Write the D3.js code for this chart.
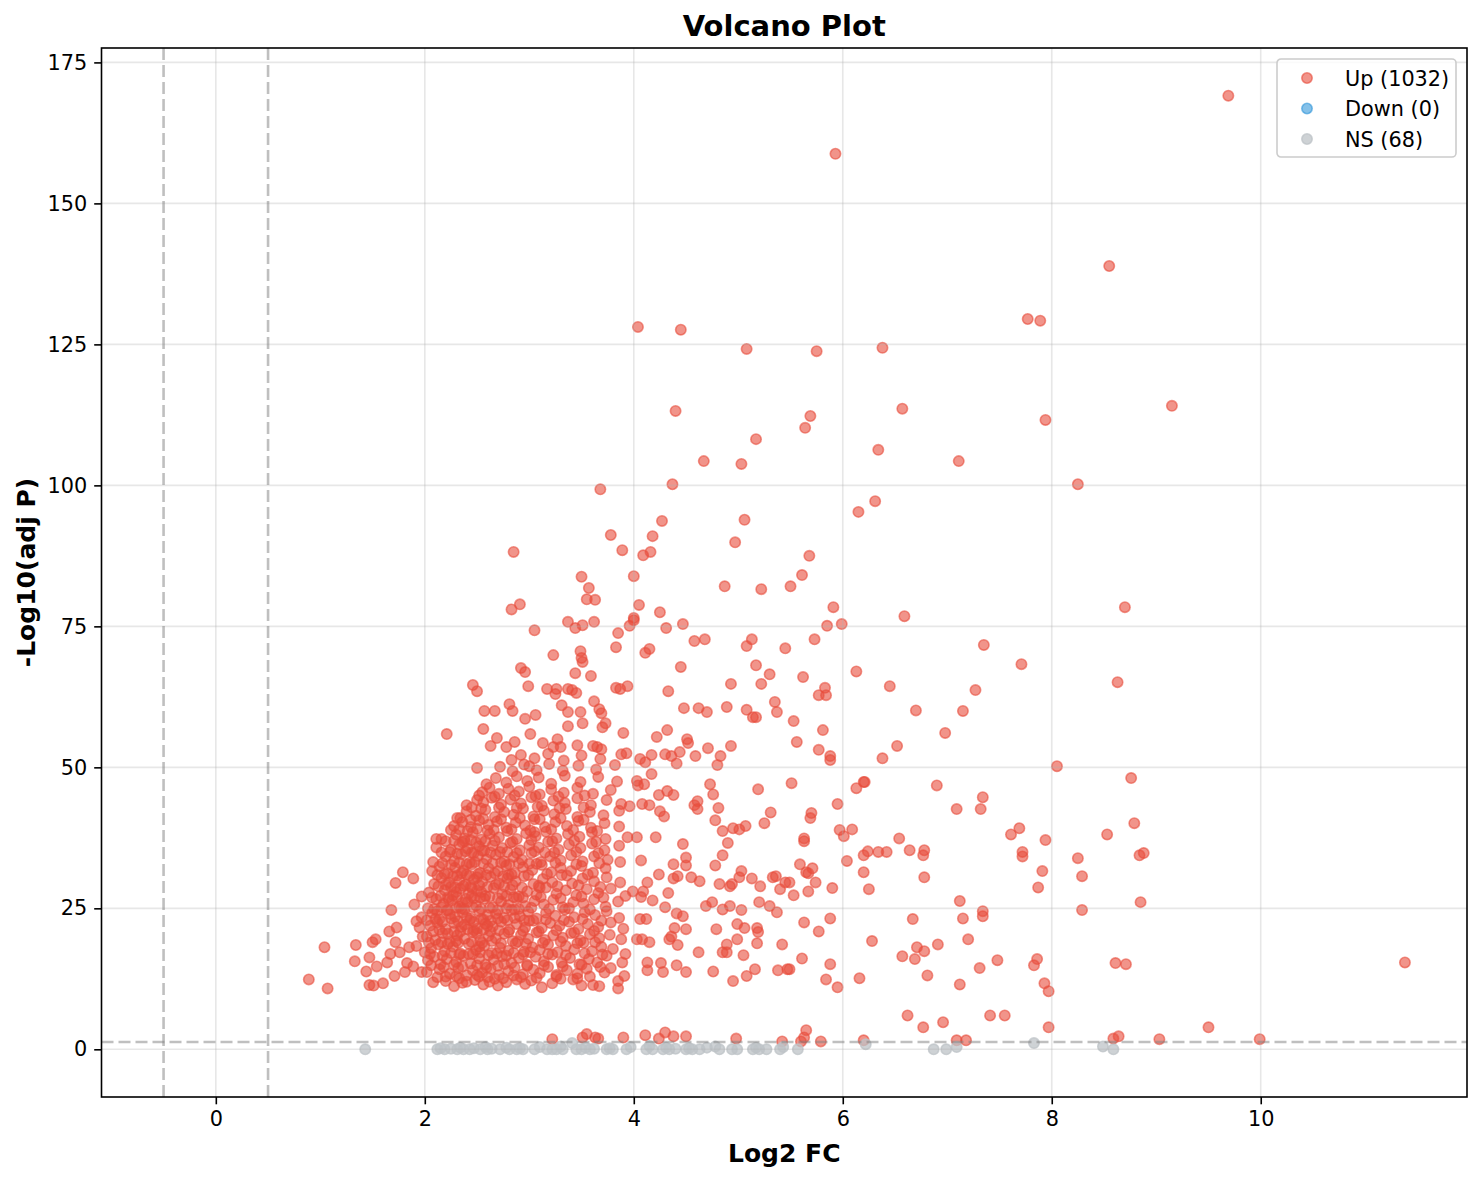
<!DOCTYPE html>
<html>
<head>
<meta charset="utf-8">
<script src="https://cdn.jsdelivr.net/npm/d3@7"></script>
<style>
  body { margin: 0; background: #fff; }
  svg text { font-family: "DejaVu Sans", sans-serif; fill: #000; }
</style>
</head>
<body>
<div class="volcano"></div>
<script>
// values: [log2 FC, -log10(adj P)]
var upPoints = [
  // top outliers
  [9.69,169.1],[5.93,158.8],[8.55,138.9],[7.77,129.5],[7.89,129.2],[4.04,128.1],[4.45,127.6],[5.08,124.2],[5.75,123.8],[6.38,124.4],
  [9.15,114.1],[4.40,113.2],[6.57,113.6],[5.69,112.3],[5.64,110.2],[7.94,111.6],[5.17,108.2],[6.34,106.3],[4.67,104.3],[5.03,103.8],
  [7.11,104.3],[8.25,100.2],[4.37,100.2],[3.68,99.3],[6.31,97.2],[6.15,95.3],[4.27,93.7],[5.06,93.9],[3.78,91.2],[4.18,91.0],
  [4.97,89.9],[3.89,88.5],[4.09,87.6],[4.16,88.2],[5.68,87.5],[4.00,83.9],[5.61,84.1],[4.87,82.1],[5.22,81.6],[5.50,82.1],
  [4.05,78.8],[4.25,77.5],[5.91,78.4],[4.00,76.5],[8.70,78.4],[2.85,88.2],[2.83,78.0],[2.91,78.9],[3.50,83.8],[3.57,81.8],
  [3.63,79.7],[3.55,79.8],
  // 60 - 77
  [5.85,75.1],[5.99,75.4],[6.59,76.8],[5.73,72.7],[7.35,71.7],[7.71,68.3],[6.13,67.0],[5.62,66.0],[6.45,64.4],[7.27,63.7],
  [5.83,64.1],[5.77,62.8],[5.84,62.8],[6.70,60.1],[7.15,60.0],[5.53,58.2],[5.81,56.6],[6.98,56.1],[8.63,65.1],
  [5.08,71.5],[5.13,72.7],[5.45,71.1],[5.17,68.1],[5.30,66.5],[4.93,64.8],[5.22,64.8],[4.89,60.7],[5.08,60.2],[5.14,58.9],
  [5.17,58.9],[5.35,61.6],[5.37,59.8],[4.48,60.5],[4.62,60.5],[4.70,59.8],[4.45,67.8],
  [3.37,75.8],[3.44,74.7],[3.51,75.2],[3.62,75.8],[3.96,75.1],[4.00,76.1],[4.31,74.7],[4.47,75.4],[3.85,73.8],[3.83,71.3],
  [4.58,72.4],[4.68,72.7],[4.11,70.3],[4.15,71.0],[3.23,69.9],[3.49,70.6],[3.50,69.4],[3.51,68.7],[3.44,66.7],[3.59,66.2],
  [4.33,63.5],[3.17,63.9],[3.26,63.9],[3.25,63.0],[3.37,63.9],[3.41,63.7],[3.45,63.2],[3.83,64.1],[3.87,63.9],[3.94,64.4],
  [3.62,61.7],[3.31,61.0],[3.37,59.8],[3.49,59.8],[3.67,60.3],[3.69,59.6],[3.05,74.3],[2.92,67.6],[2.96,66.9],[2.99,64.4],
  [2.46,64.6],[2.50,63.5],[2.57,60.0],[2.67,60.0],[2.81,61.2],[2.84,60.0],[2.96,58.6],[3.06,59.3],
  // 50 - 60
  [2.21,55.9],[2.56,56.8],[2.69,55.2],[3.01,55.9],[3.37,57.3],[3.51,57.8],[3.70,57.1],[3.73,57.8],[3.90,56.1],
  [2.63,53.8],[2.78,53.6],[2.86,54.5],[3.13,54.3],[3.23,53.6],[3.27,55.0],[3.30,53.6],[3.46,53.9],[3.61,53.8],[3.65,53.6],[3.69,53.2],
  [2.83,51.3],[2.92,52.2],[3.05,51.6],[3.18,52.4],[3.33,51.2],[3.50,52.1],[3.68,51.5],[3.88,52.3],
  [4.06,51.5],[4.11,50.9],[4.17,52.2],[4.30,52.3],[4.36,52.0],[4.44,52.7],[4.41,50.7],[4.59,52.0],[4.83,52.0],[4.80,50.4],
  [3.93,52.5],[4.22,55.4],[4.32,56.6],[4.51,55.0],[4.52,54.3],[4.71,53.4],[4.93,53.8],
  [5.56,54.5],[5.77,53.1],[5.88,52.0],[5.88,51.3],[6.38,51.6],[6.52,53.8],[8.05,50.2],
  // 35 - 50, right part
  [4.03,47.6],[4.10,47.0],[4.04,46.8],[4.17,48.8],[4.73,47.0],[4.76,45.2],[5.19,46.1],[4.24,45.1],[4.32,45.8],[4.38,45.1],
  [4.58,43.3],[4.61,44.0],[4.61,42.6],[4.81,42.8],[5.31,42.0],[5.25,40.1],[4.25,42.2],[4.29,41.3],[4.78,40.6],[4.85,38.7],
  [4.95,39.2],[5.01,39.0],[5.07,39.6],[3.96,43.1],[4.08,43.5],[4.15,43.3],[3.94,37.6],[4.03,37.6],[4.21,37.6],
  [5.51,47.2],[6.20,47.4],[6.21,47.4],[6.13,46.3],[6.90,46.8],[7.34,44.7],[7.32,42.6],[7.09,42.6],[5.95,43.5],[5.70,41.9],
  [5.69,41.0],[5.97,38.9],[6.09,39.0],[6.01,37.8],[5.63,37.4],[5.63,36.9],[6.54,37.4],[7.61,38.1],[7.69,39.2],[7.94,37.1],
  [8.76,48.1],[8.79,40.1],[8.53,38.1],
  // 10 - 37, right part
  [6.20,34.4],[6.24,35.1],[6.34,35.0],[6.42,35.0],[6.64,35.3],[6.78,35.3],[6.77,34.4],[7.72,35.0],[7.72,34.2],[8.25,33.9],
  [5.59,32.8],[5.65,31.4],[5.67,31.2],[5.71,32.1],[6.04,33.4],[5.49,29.6],[5.74,29.6],[5.67,28.0],[5.53,27.3],[5.90,28.6],
  [6.20,31.4],[6.25,28.4],[6.78,30.5],[7.91,31.6],[7.87,28.7],[8.29,30.7],[7.12,26.3],[7.34,24.5],[7.34,23.6],[7.15,23.2],
  [8.29,24.7],[5.63,22.5],[5.88,23.2],[5.77,20.9],[6.67,23.1],[6.28,19.2],[6.91,18.6],[6.71,18.1],[6.78,17.4],[7.20,19.5],
  [6.57,16.5],[6.69,16.0],[5.61,16.1],[5.49,14.2],[5.88,15.1],[5.84,12.4],[5.95,11.0],[6.16,12.6],[6.81,13.1],[7.48,15.8],
  [7.31,14.4],[7.83,14.9],[7.86,16.0],[7.12,11.5],[7.93,11.7],[7.97,10.3],
  [8.84,34.4],[8.88,34.8],[8.85,26.1],[8.61,15.3],[8.71,15.1],[11.38,15.4],
  [4.47,36.4],[4.90,36.6],[4.85,34.4],[4.50,34.0],[4.50,32.6],[4.38,32.8],[4.78,32.6],[5.03,31.6],[5.01,30.5],[5.13,30.3],
  [5.21,28.9],[5.33,30.5],[5.36,30.7],[5.40,28.4],[5.45,29.6],[4.82,29.3],[4.92,28.9],[4.94,29.3],[4.55,30.5],[4.63,29.8],
  [4.38,30.3],[4.42,30.7],[4.24,31.0],[4.33,27.7],[4.07,33.5],[3.87,33.2],[4.69,25.4],[4.75,26.1],[4.85,24.8],[4.92,25.4],
  [5.03,24.7],[5.20,26.1],[5.30,25.4],[5.37,24.3],[4.30,25.2],[4.41,24.1],[4.47,23.6],[4.50,21.3],[4.39,21.5],[4.79,21.3],
  [4.99,22.2],[5.06,21.5],[5.18,21.5],[5.19,20.8],[4.85,17.2],[4.89,17.2],[4.89,18.6],[5.05,16.7],[5.18,18.8],[4.99,19.5],
  [4.62,17.2],[4.34,19.5],[4.36,20.0],[4.42,18.5],[4.76,13.8],[4.95,12.1],[5.08,13.0],[5.16,14.2],[5.38,14.0],[5.47,14.2],
  [5.42,18.6],[4.13,15.4],[4.13,14.0],[4.26,15.3],[4.28,13.7],[4.41,14.9],[4.50,13.7],[4.03,19.5],[4.08,19.5],[4.15,19.0],
  [4.06,23.1],[4.12,23.1],[3.99,28.0],[4.07,27.0],[4.09,28.0],[4.18,26.4],[4.13,29.6],[3.92,16.9],[3.89,15.4],[3.91,13.0],
  // just above the p cut
  [6.62,6.0],[6.77,3.9],[6.96,4.8],[7.41,6.0],[7.55,6.0],[7.97,3.9],[5.65,3.4],[5.63,2.1],[5.60,1.4],[5.79,1.4],
  [6.20,1.6],[7.09,1.6],[7.18,1.6],[9.50,3.9],[8.64,2.3],[8.59,1.9],[9.03,1.8],[9.99,1.8],[3.22,1.8],[3.55,2.7],
  [3.51,2.1],[3.63,2.1],[3.66,1.9],[3.90,2.1],[4.11,2.5],[4.24,1.9],[4.30,3.0],[4.38,2.3],[4.50,2.3],[4.98,1.9],[5.42,1.4],
  // left tail and dense cluster
  [0.89,12.4],[1.04,18.1],[1.07,10.8],
  [1.47,11.4],[1.51,11.3],[1.60,11.7],[2.08,11.9],[2.20,12.1],[2.28,11.2],[2.36,11.8],[2.48,12.3],[2.56,11.5],[2.62,12.0],
  [2.70,11.3],[2.78,11.9],[2.88,12.4],[2.96,11.6],[3.02,12.2],[3.12,11.0],[3.22,11.7],[3.30,12.5],[3.42,12.4],[3.50,11.3],
  [3.61,11.4],[3.67,11.2],[3.85,10.8],[3.85,12.1],
  [1.44,13.8],[1.71,13.0],[1.81,13.7],[1.97,13.7],[2.02,13.7],[2.14,14.2],[2.24,13.4],[2.32,14.4],[2.40,13.1],[2.46,14.0],
  [2.55,13.6],[2.63,14.3],[2.71,13.2],[2.80,13.9],[2.86,14.5],[2.94,13.3],[3.04,14.1],[3.10,13.5],[3.18,14.6],[3.26,13.2],
  [3.36,14.0],[3.46,13.4],[3.55,14.3],[3.72,13.6],[3.78,14.4],
  [1.33,15.6],[1.47,16.3],[1.54,14.7],[1.64,15.4],[1.83,15.3],[1.89,14.7],[2.03,15.8],[2.09,16.4],[2.15,15.1],[2.21,16.0],
  [2.30,15.5],[2.37,16.6],[2.44,15.2],[2.52,16.1],[2.58,15.0],[2.66,15.9],[2.74,16.5],[2.83,15.3],[2.90,16.2],[2.98,15.0],
  [3.06,16.4],[3.14,15.6],[3.22,16.8],[3.31,15.4],[3.39,16.2],[3.48,15.1],[3.57,16.0],[3.65,15.4],[3.74,16.6],
  [1.67,16.9],[1.76,17.2],[1.92,18.3],[2.00,17.2],[2.06,17.9],[2.13,18.6],[2.19,17.4],[2.27,18.2],[2.34,17.0],[2.42,18.7],
  [2.49,17.6],[2.57,18.4],[2.64,17.1],[2.72,18.0],[2.80,17.5],[2.87,18.8],[2.95,17.3],[3.03,18.1],[3.10,17.6],[3.18,18.6],
  [3.27,17.2],[3.35,18.3],[3.43,17.7],[3.52,18.9],[3.60,17.4],[3.69,18.2],[3.80,17.8],
  [1.34,18.5],[1.50,19.0],[1.53,19.5],[1.72,19.0],[1.85,18.1],[1.98,20.0],[2.02,20.0],[2.10,19.4],[2.17,20.6],[2.24,19.1],
  [2.31,20.2],[2.38,19.6],[2.46,20.8],[2.53,19.3],[2.61,20.1],[2.68,19.7],[2.76,20.5],[2.84,19.2],[2.92,20.3],[2.99,19.6],
  [3.07,20.7],[3.15,19.4],[3.23,20.2],[3.32,19.8],[3.40,20.6],[3.49,19.3],[3.58,20.4],[3.67,19.7],[3.77,20.3],[3.88,19.5],
  [1.66,20.9],[1.73,21.6],[1.92,22.7],[1.95,21.6],[2.05,21.9],[2.12,22.5],[2.20,21.3],[2.28,22.4],[2.35,21.7],[2.43,22.9],
  [2.50,21.4],[2.58,22.3],[2.65,21.8],[2.73,22.6],[2.81,21.2],[2.88,22.2],[2.96,21.6],[3.04,22.8],[3.12,21.5],[3.20,22.4],
  [3.29,21.9],[3.38,22.6],[3.47,21.3],[3.56,22.2],[3.66,21.7],[3.78,22.5],[3.90,21.4],
  [1.97,23.4],[2.07,24.2],[2.14,23.1],[2.21,24.6],[2.29,23.5],[2.36,24.3],[2.44,23.2],[2.52,24.5],[2.60,23.8],[2.68,24.1],
  [2.76,23.3],[2.83,24.7],[2.91,23.6],[2.99,24.4],[3.07,23.2],[3.16,24.2],[3.25,23.7],[3.34,24.8],[3.43,23.4],[3.53,24.3],
  [3.63,23.8],[3.74,24.5],[3.86,23.3],
  [1.68,24.7],[1.90,25.7],[2.12,24.5],[2.18,25.8],[2.26,26.4],[2.33,25.3],[2.41,26.1],[2.49,25.5],[2.57,26.7],[2.65,25.2],
  [2.73,26.2],[2.80,25.6],[2.88,26.8],[2.96,25.4],[3.05,26.3],[3.14,25.7],[3.23,26.5],[3.32,25.2],[3.42,26.1],[3.52,25.8],
  [3.62,26.6],[3.73,25.3],[3.85,26.2],
  [1.97,27.1],[2.04,27.8],[2.11,26.6],[2.19,28.2],[2.27,27.3],[2.34,28.5],[2.42,27.6],[2.50,28.1],[2.58,27.2],[2.66,28.6],
  [2.74,27.5],[2.82,28.3],[2.90,27.1],[2.98,28.0],[3.07,27.4],[3.16,28.7],[3.26,27.6],[3.35,28.2],[3.45,27.3],[3.55,28.4],
  [3.66,27.7],[3.78,28.5],[3.92,27.2],
  [1.72,29.5],[1.89,30.3],[2.09,29.3],[2.16,30.4],[2.23,29.6],[2.31,30.8],[2.39,29.2],[2.47,30.1],[2.55,29.7],[2.63,30.6],
  [2.71,29.4],[2.79,30.3],[2.87,29.8],[2.95,30.7],[3.04,29.3],[3.13,30.2],[3.22,29.6],[3.31,30.9],[3.41,29.4],[3.51,30.3],
  [3.62,29.8],[3.74,30.5],[3.87,29.6],
  [1.79,31.4],[2.07,31.6],[2.14,32.4],[2.22,31.2],[2.29,32.2],[2.37,31.7],[2.45,32.8],[2.53,31.3],[2.61,32.1],[2.70,31.6],
  [2.78,32.6],[2.86,31.2],[2.94,32.3],[3.03,31.8],[3.12,32.7],[3.21,31.4],[3.30,32.2],[3.40,31.6],[3.50,32.5],[3.61,31.3],
  [3.73,32.1],
  [2.08,33.2],[2.20,34.2],[2.28,33.4],[2.35,34.6],[2.43,33.1],[2.51,34.3],[2.59,33.7],[2.68,34.5],[2.76,33.3],[2.85,34.1],
  [2.93,33.6],[3.02,34.8],[3.11,33.2],[3.20,34.2],[3.30,33.5],[3.40,34.4],[3.51,33.3],[3.62,34.2],[3.75,33.6],
  [2.11,35.8],[2.25,35.4],[2.33,36.3],[2.41,35.6],[2.49,36.7],[2.57,35.2],[2.65,36.1],[2.74,35.7],[2.82,36.6],[2.91,35.3],
  [3.00,36.2],[3.09,35.8],[3.18,36.8],[3.28,35.4],[3.38,36.3],[3.49,35.7],[3.60,36.5],[3.72,35.3],[3.86,36.1],
  [2.11,37.3],[2.16,37.3],[2.30,38.1],[2.38,37.4],[2.46,38.5],[2.54,37.2],[2.62,38.2],[2.71,37.6],[2.79,38.7],[2.88,37.3],
  [2.97,38.3],[3.06,37.8],[3.16,38.6],[3.26,37.4],[3.37,38.2],[3.48,37.7],[3.60,38.5],[3.73,37.3],
  [2.28,39.6],[2.36,40.3],[2.44,39.4],[2.52,40.6],[2.61,39.8],[2.69,40.4],[2.78,39.3],[2.87,40.2],[2.96,39.7],[3.05,40.8],
  [3.15,39.4],[3.25,40.3],[3.36,39.6],[3.47,40.5],[3.59,39.3],[3.72,40.1],[3.86,39.5],
  [2.31,41.0],[2.40,42.2],[2.49,41.4],[2.58,42.5],[2.67,41.2],[2.76,42.1],[2.85,41.6],[2.94,42.7],[3.04,41.3],[3.14,42.3],
  [3.24,41.7],[3.35,42.6],[3.46,41.2],[3.58,42.1],[3.71,41.5],[3.86,42.3],
  [2.40,43.3],[2.50,44.2],[2.56,43.8],[2.64,44.6],[2.73,43.4],[2.82,44.3],[2.92,43.6],[3.02,44.7],[3.12,43.2],[3.23,44.1],
  [3.34,43.7],[3.46,44.5],[3.59,43.3],[3.74,44.2],[3.88,43.5],
  [2.55,45.6],[2.62,46.4],[2.71,45.3],[2.80,46.2],[2.90,45.7],[3.00,46.6],[3.10,45.2],[3.21,46.1],[3.33,45.5],[3.46,46.4],
  [3.61,45.3],[3.78,46.0],
  [2.59,47.0],[2.68,48.1],[2.78,47.3],[2.88,48.4],[2.98,47.6],[3.09,48.2],[3.21,47.1],[3.34,48.5],[3.49,47.4],[3.66,48.3],[3.84,47.5],
  [2.50,49.9],[2.72,50.1],[2.84,49.3],[2.95,50.5],[3.00,50.2],[3.07,49.5],[3.19,50.6],[3.32,49.4],[3.47,50.3],[3.64,49.6],[3.82,50.4],
  // extra overlap in the densest part
  [2.22,26.9],[2.25,28.8],[2.30,27.9],[2.33,30.0],[2.36,26.0],[2.40,31.0],[2.44,28.9],[2.47,26.8],[2.50,30.5],[2.54,27.9],
  [2.28,20.9],[2.32,18.9],[2.38,22.1],[2.42,16.9],[2.47,21.1],[2.52,18.2],[2.56,23.0],[2.60,21.9],[2.24,24.0],[2.35,25.0],
  [2.45,34.9],[2.38,36.9],[2.52,36.0],[2.60,38.8],[2.65,33.0],[2.72,35.0],[2.80,30.9],[2.85,27.0],[2.90,24.9],[2.95,22.9],
  [3.00,32.9],[3.05,38.5],[3.10,28.7],[3.15,34.9],[2.20,12.9],[2.30,13.0],[2.40,12.0],[2.50,13.2],[2.60,12.8],[2.70,14.8],
  [2.75,12.6],[2.85,13.1],
  [2.12,12.8],[2.33,12.6],[2.52,12.9],[2.67,12.5],[2.92,12.8],[3.07,12.7],[3.26,12.9],[3.46,12.6],[3.58,12.9],
  [2.06,14.9],[2.18,14.6],[2.28,15.0],[2.36,14.7],[2.50,14.9],[2.59,14.5],[2.76,15.1],[2.98,14.8],[3.14,14.9],[3.32,14.7],
  [3.50,15.0],[3.68,14.6],
  [2.05,16.9],[2.17,16.6],[2.25,17.1],[2.33,16.8],[2.46,16.9],[2.53,17.2],[2.61,16.7],[2.69,17.0],[2.78,16.6],[2.85,17.1],
  [2.94,16.8],[3.01,17.2],[3.18,16.9],[3.35,16.7],[3.53,17.0],[3.70,16.8],
  [2.04,18.9],[2.16,19.0],[2.22,18.7],[2.30,19.2],[2.45,19.0],[2.55,18.9],[2.64,19.2],[2.73,18.8],[2.89,19.1],[2.97,18.7],
  [3.13,18.9],[3.30,19.1],[3.46,18.8],[3.63,19.0],
  [2.08,20.9],[2.14,21.2],[2.22,20.5],[2.34,20.9],[2.41,21.3],[2.50,20.6],[2.56,21.2],[2.63,20.9],[2.71,21.1],[2.80,20.8],
  [2.94,21.0],[3.09,20.9],[3.26,21.1],[3.43,20.7],[3.62,21.0],
  [2.02,22.9],[2.10,23.1],[2.17,22.6],[2.25,23.2],[2.32,22.7],[2.40,23.4],[2.47,22.6],[2.54,23.1],[2.63,22.8],[2.70,23.2],
  [2.79,22.9],[2.86,23.3],[3.00,22.8],[3.16,23.0],[3.33,22.9],[3.51,23.1],[3.69,22.8],
  [2.03,25.0],[2.09,24.9],[2.16,25.2],[2.22,24.7],[2.30,25.1],[2.38,24.8],[2.46,25.2],[2.54,24.9],[2.62,25.1],[2.70,24.7],
  [2.78,25.0],[2.86,24.8],[3.02,25.1],[3.19,24.9],[3.38,25.0],[3.58,24.8],
  [2.07,26.9],[2.15,27.2],[2.23,26.6],[2.31,27.0],[2.39,26.7],[2.45,27.2],[2.53,26.9],[2.62,27.1],[2.70,26.8],[2.78,27.2],
  [2.94,26.9],[3.11,27.0],[3.30,26.8],[3.50,27.1],[3.71,26.9],
  [2.13,28.9],[2.20,29.2],[2.29,28.7],[2.37,29.0],[2.45,28.6],[2.52,29.1],[2.60,28.8],[2.68,29.2],[2.76,28.9],[2.84,29.1],
  [2.93,28.7],[3.09,29.0],[3.27,28.9],[3.47,29.1],[3.68,28.8],
  [2.12,30.9],[2.19,31.1],[2.27,30.7],[2.35,31.2],[2.43,30.8],[2.51,31.1],[2.59,30.9],[2.67,31.2],[2.75,30.7],[2.83,31.0],
  [2.99,30.9],[3.17,31.1],[3.36,30.8],[3.56,31.0],
  [2.17,33.0],[2.25,32.7],[2.33,33.1],[2.40,32.8],[2.48,33.2],[2.56,32.9],[2.73,33.1],[2.81,32.8],[2.90,33.0],[3.07,32.9],
  [3.25,33.1],[3.45,32.8],[3.67,33.0],
  [2.16,34.9],[2.24,35.0],[2.31,34.7],[2.39,35.1],[2.47,34.8],[2.55,35.2],[2.63,34.9],[2.79,35.0],[2.88,34.8],[3.05,35.1],
  [3.24,34.9],[3.45,35.0],[3.66,34.8],
  [2.20,36.9],[2.28,37.0],[2.36,36.7],[2.44,37.1],[2.58,36.9],[2.67,37.0],[2.84,36.8],[3.02,37.1],[3.22,36.9],[3.43,37.0],
  [3.64,36.8],
  [2.25,38.9],[2.33,39.0],[2.41,38.7],[2.50,39.1],[2.66,38.9],[2.83,39.0],[3.01,38.8],[3.21,39.0],[3.42,38.9],[3.65,38.7],
  [2.34,41.0],[2.44,40.7],[2.56,40.9],[2.73,40.8],[2.91,41.0],[3.10,40.8],[3.30,41.0],[3.52,40.7],
  [2.45,42.9],[2.54,42.7],[2.71,42.9],[2.88,42.8],[3.08,43.0],[3.29,42.8],[3.52,42.9],
  [2.52,45.0],[2.67,44.8],[2.86,45.0],[3.06,44.9],[3.28,44.8],[3.53,45.0]
];
var downPoints = [];
var nsPoints = [
  [1.43,0.0],[2.12,0.0],[2.15,0.2],[2.19,0.0],[2.25,0.1],[2.31,0.0],[2.34,0.3],[2.37,0.0],[2.43,0.0],[2.47,0.2],
  [2.53,0.0],[2.58,0.4],[2.60,0.0],[2.64,0.1],[2.72,0.0],[2.78,0.3],[2.81,0.0],[2.88,0.0],[2.91,0.2],[2.94,0.0],
  [3.05,0.0],[3.10,0.4],[3.17,0.0],[3.22,0.0],[3.26,0.0],[3.30,0.5],[3.32,0.0],[3.41,1.1],[3.45,0.0],[3.50,0.0],
  [3.54,0.3],[3.58,0.0],[3.62,0.1],[3.74,0.0],[3.77,0.2],[3.80,0.0],[3.93,0.0],[3.97,0.4],[4.12,0.0],[4.15,0.6],
  [4.18,0.0],[4.28,0.0],[4.31,0.3],[4.34,0.0],[4.40,0.1],[4.50,0.0],[4.53,0.2],[4.56,0.0],[4.63,0.0],[4.70,0.3],
  [4.78,0.5],[4.82,0.0],[4.94,0.0],[4.99,0.0],[5.14,0.0],[5.17,0.3],[5.20,0.0],[5.27,0.0],[5.40,0.0],[5.43,0.4],
  [5.57,0.0],[6.22,0.9],[6.87,0.0],[6.99,0.0],[7.09,0.4],[7.83,1.1],[8.49,0.5],[8.59,0.0]
];

var groupNames = ['Up', 'Down', 'NS'];
var groupCounts = [1032, 0, 68];
var groupColors = ['#e74c3c', '#3498db', '#bdc3c7'];
var groupAlpha = [0.6, 0.6, 0.75];
var xTicks = [0, 2, 4, 6, 8, 10];
var yTicks = [0, 25, 50, 75, 100, 125, 150, 175];
var fcCut = 0.5;
var pCut = 1.3;

var margin = {top: 48, right: 15, bottom: 83, left: 101.5};
var width = 1482 - margin.left - margin.right;
var height = 1180 - margin.top - margin.bottom;
var dotR = 5.2;

var svg = d3.select('div.volcano').append('svg')
    .attr('width', 1482)
    .attr('height', 1180);

var g = svg.append('g')
    .attr('transform', 'translate(' + margin.left + ',' + margin.top + ')');

// matplotlib-like 5% padding around the data
var allPoints = upPoints.concat(downPoints, nsPoints);
var xs = allPoints.map(function (d) { return d[0]; }).concat([-fcCut, fcCut]);
var ys = allPoints.map(function (d) { return d[1]; }).concat([pCut]);
var xMin = d3.min(xs), xMax = d3.max(xs);
var yMin = d3.min(ys), yMax = d3.max(ys);
var xPad = (xMax - xMin) * 0.05, yPad = (yMax - yMin) * 0.05;

var xScale = d3.scaleLinear()
    .domain([xMin - xPad, xMax + xPad])
    .range([0, width]);
var yScale = d3.scaleLinear()
    .domain([yMin - yPad, yMax + yPad])
    .range([height, 0]);

// points
var groups = [upPoints, downPoints, nsPoints];
groups.forEach(function (pts, i) {
  g.append('g').selectAll('circle')
    .data(pts)
    .enter()
    .append('circle')
    .attr('cx', function (d) { return xScale(d[0]); })
    .attr('cy', function (d) { return yScale(d[1]); })
    .attr('r', dotR)
    .attr('fill', groupColors[i])
    .attr('fill-opacity', groupAlpha[i])
    .attr('stroke', groupColors[i])
    .attr('stroke-opacity', groupAlpha[i])
    .attr('stroke-width', 1.6);
});

// grid
var grid = g.append('g').attr('class', 'grid');
grid.selectAll('line.gx')
  .data(xTicks)
  .enter()
  .append('line')
  .attr('x1', function (d) { return xScale(d); })
  .attr('x2', function (d) { return xScale(d); })
  .attr('y1', 0)
  .attr('y2', height)
  .attr('stroke', '#b0b0b0')
  .attr('stroke-opacity', 0.3)
  .attr('stroke-width', 1.6);
grid.selectAll('line.gy')
  .data(yTicks)
  .enter()
  .append('line')
  .attr('x1', 0)
  .attr('x2', width)
  .attr('y1', function (d) { return yScale(d); })
  .attr('y2', function (d) { return yScale(d); })
  .attr('stroke', '#b0b0b0')
  .attr('stroke-opacity', 0.3)
  .attr('stroke-width', 1.6);

// threshold lines
var cuts = g.append('g');
[-fcCut, fcCut].forEach(function (v) {
  cuts.append('line')
    .attr('x1', xScale(v)).attr('x2', xScale(v))
    .attr('y1', 0).attr('y2', height)
    .attr('stroke', '#808080')
    .attr('stroke-opacity', 0.5)
    .attr('stroke-width', 2.6)
    .attr('stroke-dasharray', '12,5');
});
cuts.append('line')
  .attr('x1', 0).attr('x2', width)
  .attr('y1', yScale(pCut)).attr('y2', yScale(pCut))
  .attr('stroke', '#808080')
  .attr('stroke-opacity', 0.5)
  .attr('stroke-width', 2.6)
  .attr('stroke-dasharray', '12,5');

// axes
var xAxis = d3.axisBottom(xScale).tickValues(xTicks).tickSize(7.3).tickPadding(7);
var yAxis = d3.axisLeft(yScale).tickValues(yTicks).tickSize(7.3).tickPadding(7);

var xg = g.append('g')
    .attr('transform', 'translate(0,' + height + ')')
    .call(xAxis);
var yg = g.append('g').call(yAxis);

[xg, yg].forEach(function (a) {
  a.select('.domain').remove();
  a.selectAll('.tick line').attr('stroke', '#000').attr('stroke-width', 1.6);
  a.selectAll('.tick text').attr('font-size', '20.8px').attr('fill', '#000');
});
xg.selectAll('.tick text').attr('dy', '0.71em');

// frame
g.append('rect')
  .attr('width', width)
  .attr('height', height)
  .attr('fill', 'none')
  .attr('stroke', '#000')
  .attr('stroke-width', 1.6);

// labels
svg.append('text')
  .attr('x', margin.left + width / 2)
  .attr('y', 36)
  .attr('text-anchor', 'middle')
  .attr('font-size', '29px')
  .attr('font-weight', 'bold')
  .text('Volcano Plot');

svg.append('text')
  .attr('x', margin.left + width / 2)
  .attr('y', 1162)
  .attr('text-anchor', 'middle')
  .attr('font-size', '25px')
  .attr('font-weight', 'bold')
  .text('Log2 FC');

svg.append('text')
  .attr('transform', 'translate(35,' + (margin.top + height / 2) + ') rotate(-90)')
  .attr('text-anchor', 'middle')
  .attr('font-size', '25px')
  .attr('font-weight', 'bold')
  .text('-Log10(adj P)');

// legend
var legend = svg.append('g').attr('transform', 'translate(1277,59)');
legend.append('rect')
  .attr('width', 179)
  .attr('height', 98)
  .attr('rx', 4)
  .attr('fill', '#fff')
  .attr('fill-opacity', 0.8)
  .attr('stroke', '#cccccc')
  .attr('stroke-width', 1.6);

var items = legend.selectAll('g.item')
    .data(groupNames)
    .enter()
    .append('g')
    .attr('transform', function (d, i) { return 'translate(0,' + (19 + i * 30.5) + ')'; });
items.append('circle')
  .attr('cx', 30)
  .attr('r', dotR)
  .attr('fill', function (d, i) { return groupColors[i]; })
  .attr('fill-opacity', function (d, i) { return groupAlpha[i]; })
  .attr('stroke', function (d, i) { return groupColors[i]; })
  .attr('stroke-opacity', function (d, i) { return groupAlpha[i]; })
  .attr('stroke-width', 1.6);
items.append('text')
  .attr('x', 68)
  .attr('y', 7.5)
  .attr('font-size', '20.8px')
  .text(function (d, i) { return d + ' (' + groupCounts[i] + ')'; });
</script>
</body>
</html>
